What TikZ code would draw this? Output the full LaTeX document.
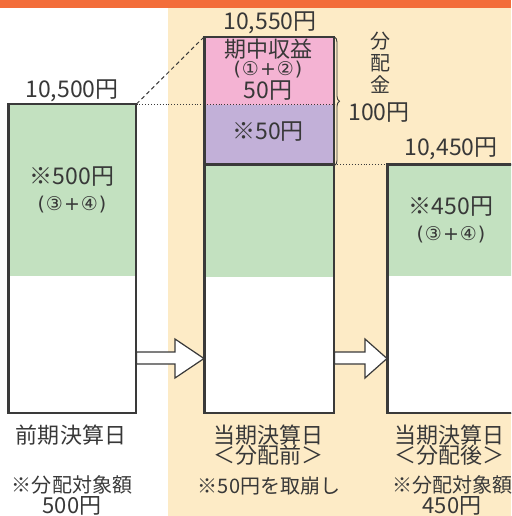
\documentclass[tikz,border=0pt]{standalone}
\usepackage{fontspec}
\setmainfont{Noto Sans CJK JP}
\newfontfamily\circfont{DejaVu Sans}
\usetikzlibrary{decorations.pathreplacing}
\definecolor{bgor}{HTML}{FDEBC6}
\definecolor{baror}{HTML}{F36D3A}
\definecolor{pnk}{HTML}{F4B3D3}
\definecolor{prp}{HTML}{C2B0D8}
\definecolor{grn}{HTML}{C3E1C0}
\definecolor{ln}{HTML}{3A3A3A}
\definecolor{txt}{HTML}{383838}
\newcommand{\cgap}{\hspace{1pt}}
\tikzset{
  box/.style={draw=ln, line width=1.5pt, fill=white, inner sep=0pt, anchor=north west},
  lbl/.style={text=txt, inner sep=0pt, font=\fontsize{22}{24}\selectfont},
  val/.style={text=txt, inner sep=0pt, font=\fontsize{23}{25}\selectfont},
  sml/.style={text=txt, inner sep=0pt, text height=12pt, text depth=2pt, font=\circfont\fontsize{19}{20}\selectfont},
  note/.style={text=txt, inner sep=0pt, font=\fontsize{20}{22}\selectfont},
  barrow/.style={draw=ln, line width=1.2pt, fill=white, line join=miter},
  guide/.style={draw=ln, line width=1pt},
}
\begin{document}
\begin{tikzpicture}[x=1pt,y=-1pt]
\useasboundingbox (0,0) rectangle (511,516);
\clip (0,0) rectangle (511,516);
\fill[baror] (0,0) rectangle (511,8);
\fill[bgor] (168,8) rectangle (511,516);

% boxes
\node[box, minimum width=127pt, minimum height=308pt,
  path picture={\fill[grn] (path picture bounding box.north west) rectangle ([yshift=-171pt]path picture bounding box.north east);}]
  (L) at (8,104) {};
\node[box, minimum width=129pt, minimum height=127pt,
  path picture={\fill[pnk] (path picture bounding box.north west) rectangle ([yshift=-67pt]path picture bounding box.north east);
                \fill[prp] ([yshift=-67pt]path picture bounding box.north west) rectangle (path picture bounding box.south east);}]
  (M1) at (204,37) {};
\node[box, minimum width=129pt, minimum height=248pt,
  path picture={\fill[grn] (path picture bounding box.north west) rectangle ([yshift=-112pt]path picture bounding box.north east);}]
  (M2) at (204,164) {};
\node[box, minimum width=140pt, minimum height=248pt,
  path picture={\fill[grn] (path picture bounding box.north west) rectangle ([yshift=-111pt]path picture bounding box.north east);}]
  (R) at (387,164) {};
% redraw borders over fills
\draw[ln, line width=1.5pt] (L.north west) rectangle (L.south east);
\draw[ln, line width=1.5pt] (M1.north west) rectangle (M1.south east);
\draw[ln, line width=1.5pt] (M2.north west) rectangle (M2.south east);
\draw[ln, line width=1.5pt] (R.north west) rectangle (R.south east);

% dotted boundary pink/purple
\draw[ln, line width=0.9pt, dotted] (M1.west |- 0,104) -- (M1.east |- 0,104);

% guide lines
\draw[guide, dashed, dash pattern=on 4pt off 3pt] (L.north east) -- (M1.north west);
\draw[ln, line width=0.9pt, dotted] (L.north east) -- (M1.west |- L.north east);
\draw[ln, line width=0.9pt, dotted] (M2.north east) -- (R.north west);

% brace
\draw[ln, line width=0.9pt, decorate, decoration={brace, amplitude=5pt}] (M1.north east) -- (M1.south east);

% block arrows
\draw[barrow] (L.east |- 0,352) -- (175,352) -- (175,339) -- (M2.west |- 0,358.5) -- (175,378) -- (175,364) -- (L.east |- 0,364) -- cycle;
\draw[barrow] (M2.east |- 0,352) -- (365,352) -- (365,339) -- (R.west |- 0,358.5) -- (365,378) -- (365,364) -- (M2.east |- 0,364) -- cycle;

% values above boxes
\node[val] (v0) at (72,91) {10,500円};
\node[val] (v1) at (270,23) {10,550円};
\node[val] (v2) at (451,149) {10,450円};

% middle box texts
\node[lbl] (t1) at (268,49) {期中収益};
\node[sml] (t2) at (268,71) {(\cgap①\cgap+\cgap②\cgap)};
\node[val] (t3) at (268,91) {50円};
\node[val] (t4) at (268,132) {※50円};

% left / right box texts
\node[val] (l1) at (72,177) {※500円};
\node[sml] (l2) at (72,205) {(\cgap③\cgap+\cgap④\cgap)};
\node[val] (r1) at (451,207) {※450円};
\node[sml] (r2) at (451,235) {(\cgap③\cgap+\cgap④\cgap)};

% distribution
\node[lbl, align=center, font=\fontsize{20}{22}\selectfont] (d1) at (380,63) {分\\配\\金};
\node[val] (d2) at (379,113) {100円};

% bottom labels
\node[lbl] (b1) at (71,435) {前期決算日};
\node[note] (b2) at (72,485) {※分配対象額};
\node[lbl] (b3) at (72,506) {500円};
\node[lbl] (c1) at (268,435) {当期決算日};
\node[lbl] (c2) at (268,455) {＜分配前＞};
\node[note] (c3) at (269,486) {※50円を取崩し};
\node[lbl] (e1) at (449,435) {当期決算日};
\node[lbl] (e2) at (449,455) {＜分配後＞};
\node[note] (e3) at (452,485) {※分配対象額};
\node[lbl] (e4) at (452,506) {450円};
\end{tikzpicture}
\end{document}
